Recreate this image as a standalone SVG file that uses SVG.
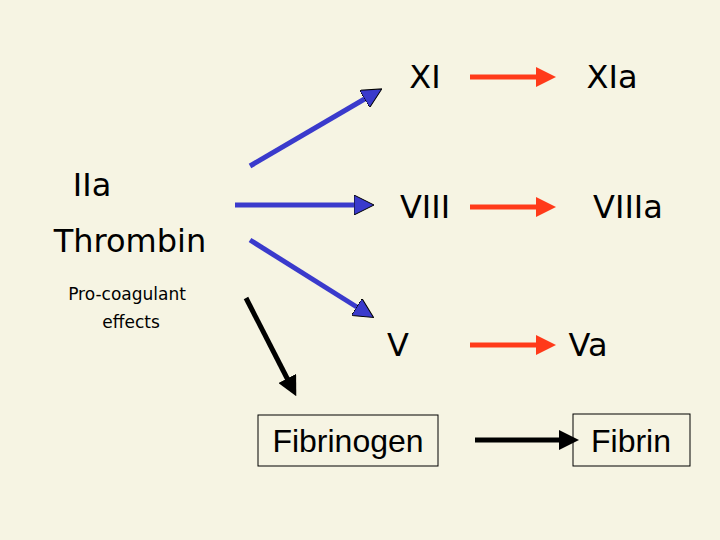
<svg xmlns="http://www.w3.org/2000/svg" width="720" height="540" viewBox="0 0 720 540">
<style>
.t{font-family:"DejaVu Sans","Liberation Sans",sans-serif;fill:#000;text-anchor:middle}
.b{stroke:#3a3acc;stroke-width:5;fill:none}
.r{stroke:#ff3a1a;stroke-width:5;fill:none}
.k{stroke:#000;stroke-width:5;fill:none}
</style>
<defs>
<marker id="mb" viewBox="0 0 10 10" refX="2" refY="5" markerWidth="4" markerHeight="4" orient="auto"><path d="M0,0L10,5L0,10z" fill="#3a3acc" stroke="#000" stroke-width="0.5"/></marker>
<marker id="mr" viewBox="0 0 10 10" refX="2" refY="5" markerWidth="4" markerHeight="4" orient="auto"><path d="M0,0L10,5L0,10z" fill="#ff3a1a"/></marker>
<marker id="mk" viewBox="0 0 10 10" refX="2" refY="5" markerWidth="4" markerHeight="4" orient="auto"><path d="M0,0L10,5L0,10z" fill="#000"/></marker>
</defs>
<rect width="720" height="540" fill="#f6f4e3"/>
<g id="connectors">
<line class="b" x1="250" y1="166" x2="368" y2="97" marker-end="url(#mb)"/>
<line class="b" x1="235" y1="205" x2="358" y2="205" marker-end="url(#mb)"/>
<line class="b" x1="250" y1="240" x2="360" y2="309" marker-end="url(#mb)"/>
<line class="k" x1="246" y1="298" x2="289" y2="382" marker-end="url(#mk)"/>
<line class="r" x1="470" y1="77" x2="540" y2="77" marker-end="url(#mr)"/>
<line class="r" x1="470" y1="207" x2="540" y2="207" marker-end="url(#mr)"/>
<line class="r" x1="470" y1="345" x2="540" y2="345" marker-end="url(#mr)"/>
<line class="k" x1="475" y1="440" x2="563" y2="440" marker-end="url(#mk)"/>
</g>
<g id="thrombin">
<text class="t" x="92" y="196" font-size="32">IIa</text>
<text class="t" x="130" y="252" font-size="32">Thrombin</text>
<text class="t" x="127" y="300" font-size="17">Pro-coagulant</text>
<text class="t" x="131" y="328" font-size="17">effects</text>
</g>
<g id="xi"><text class="t" x="425" y="88" font-size="32">XI</text></g>
<g id="xia"><text class="t" x="612" y="88" font-size="32">XIa</text></g>
<g id="viii"><text class="t" x="425" y="218" font-size="32">VIII</text></g>
<g id="viiia"><text class="t" x="628" y="218" font-size="32">VIIIa</text></g>
<g id="v"><text class="t" x="398" y="356" font-size="32">V</text></g>
<g id="va"><text class="t" x="588" y="356" font-size="32">Va</text></g>
<g id="fibrinogen"><rect x="258" y="415" width="180" height="51" fill="none" stroke="#000" stroke-width="1"/><text class="t" x="348" y="452" font-size="32" style="font-family:'Liberation Sans',sans-serif">Fibrinogen</text></g>
<g id="fibrin"><rect x="573" y="414" width="117" height="52" fill="none" stroke="#000" stroke-width="1"/><text class="t" x="631" y="452" font-size="32" style="font-family:'Liberation Sans',sans-serif">Fibrin</text></g>
</svg>
